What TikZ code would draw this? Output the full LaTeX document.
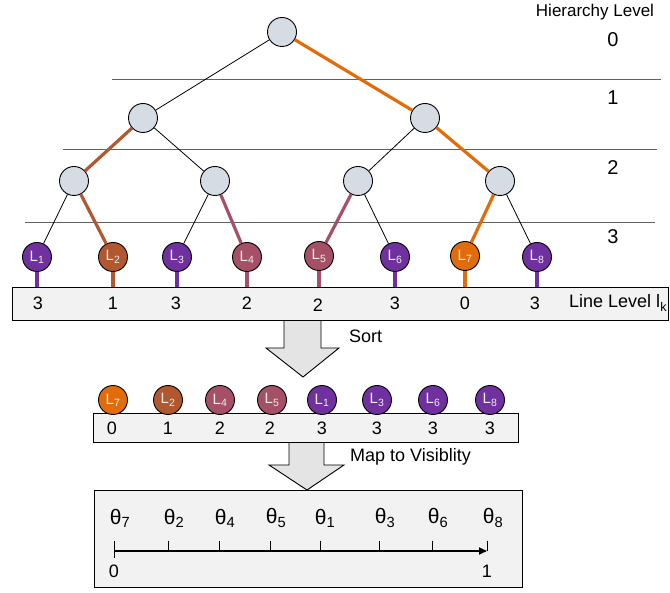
\documentclass[tikz,border=0pt]{standalone}
\usepackage{fontspec}
\setmainfont{Liberation Sans}
\usetikzlibrary{arrows.meta}
\definecolor{cOrange}{HTML}{E36C0A}
\definecolor{cBrown}{HTML}{B2582F}
\definecolor{cRose}{HTML}{A65067}
\definecolor{cPurple}{HTML}{7030A0}
\definecolor{nodefill}{HTML}{D6DCE4}
\definecolor{leaftext}{HTML}{EEEEEE}
\definecolor{sepgray}{HTML}{606060}
\definecolor{panelfill}{HTML}{F2F2F2}
\definecolor{arrowfill}{HTML}{E4E4E4}
\begin{document}
\begin{tikzpicture}[x=1pt,y=-1pt,
  inner/.style={circle,draw=black,fill=nodefill,minimum size=29pt,inner sep=0pt,line width=0.9pt},
  leaf/.style={circle,draw=black,minimum size=29pt,inner sep=0pt,line width=0.9pt,text=leaftext,font=\fontsize{15}{15}\selectfont},
  thinedge/.style={line width=0.8pt},
  hot/.style={line width=3.2pt},
  sep/.style={draw=sepgray,line width=1pt},
  lbl/.style={font=\fontsize{18}{18}\selectfont,inner sep=0pt},
  hlbl/.style={font=\fontsize{20}{20}\selectfont,inner sep=0pt},
  tlbl/.style={font=\fontsize{21}{21}\selectfont,inner sep=0pt},
  panel/.style={draw=black,fill=panelfill,line width=1.1pt,inner sep=0pt,anchor=north west},
  bigarrow/.style={draw=black,line width=0.9pt,line join=miter},
  tick/.style={line width=0.8pt}]
\useasboundingbox (0,0) rectangle (670,593);

% hierarchy level separators
\draw[sep] (112,80) -- (661,80);
\draw[sep] (63,150) -- (657,150);
\draw[sep] (25,222.5) -- (655,222.5);

% level captions
\node[font=\fontsize{17}{17}\selectfont,inner sep=0pt] (hlev) at (595,12) {Hierarchy Level};
\node[hlbl] (h0) at (613,40) {0};
\node[hlbl] (h1) at (613,98) {1};
\node[hlbl] (h2) at (613,168) {2};
\node[hlbl] (h3) at (613,237) {3};

% sort arrow (outline left open at the top, under the bar)
\fill[arrowfill] (284,319) -- (284,348) -- (266,348) -- (303,377) -- (339,348) -- (321,348) -- (321,319) -- cycle;
\draw[bigarrow] (284,320) -- (284,348) -- (266,348) -- (303,377) -- (339,348) -- (321,348) -- (321,320);
\node[lbl,anchor=west] (sort) at (349,336) {Sort};

% map arrow
\fill[arrowfill] (289,441) -- (289,465) -- (269,465) -- (307,491) -- (344,465) -- (324,465) -- (324,441) -- cycle;
\draw[bigarrow] (289,442) -- (289,465) -- (269,465) -- (307,490) -- (344,465) -- (324,465) -- (324,442);
\node[lbl,anchor=west] (map) at (350,457) {Map to Visiblity};

% bars
\node[panel,minimum width=656pt,minimum height=33pt] (bar1) at (12,287) {};
\node[panel,minimum width=425pt,minimum height=29pt] (bar2) at (93,413) {};
\node[panel,minimum width=428pt,minimum height=97pt] (bar3) at (94,490) {};

% tree
\node[inner] (r) at (282,32) {};
\node[inner] (a) at (143,118) {};
\node[inner] (b) at (425,118) {};
\node[inner] (aa) at (74,181) {};
\node[inner] (ab) at (215,181) {};
\node[inner] (ba) at (358,181) {};
\node[inner] (bb) at (500,181) {};

\node[leaf,fill=cPurple] (L1) at (37,257) {L\textsubscript{1}};
\node[leaf,fill=cBrown]  (L2) at (113,257) {L\textsubscript{2}};
\node[leaf,fill=cPurple] (L3) at (177,257) {L\textsubscript{3}};
\node[leaf,fill=cRose]   (L4) at (247,257) {L\textsubscript{4}};
\node[leaf,fill=cRose]   (L5) at (319,256) {L\textsubscript{5}};
\node[leaf,fill=cPurple] (L6) at (395,257) {L\textsubscript{6}};
\node[leaf,fill=cOrange] (L7) at (465,256) {L\textsubscript{7}};
\node[leaf,fill=cPurple] (L8) at (537,257) {L\textsubscript{8}};

\draw[thinedge] (r) -- (a);
\draw[hot,cOrange] (r) -- (b);
\draw[hot,cBrown] (a) -- (aa);
\draw[thinedge] (a) -- (ab);
\draw[thinedge] (b) -- (ba);
\draw[hot,cOrange] (b) -- (bb);
\draw[thinedge] (aa) -- (L1);
\draw[hot,cBrown] (aa) -- (L2);
\draw[thinedge] (ab) -- (L3);
\draw[hot,cRose] (ab) -- (L4);
\draw[hot,cRose] (ba) -- (L5);
\draw[thinedge] (ba) -- (L6);
\draw[hot,cOrange] (bb) -- (L7);
\draw[thinedge] (bb) -- (L8);

% stems to the line-level bar
\draw[hot,cPurple] (L1) -- (L1 |- bar1.north);
\draw[hot,cBrown]  (L2) -- (L2 |- bar1.north);
\draw[hot,cPurple] (L3) -- (L3 |- bar1.north);
\draw[hot,cRose]   (L4) -- (L4 |- bar1.north);
\draw[hot,cRose]   (L5) -- (L5 |- bar1.north);
\draw[hot,cPurple] (L6) -- (L6 |- bar1.north);
\draw[hot,cOrange] (L7) -- (L7 |- bar1.north);
\draw[hot,cPurple] (L8) -- (L8 |- bar1.north);

% line levels
\node[lbl] (n1) at (38,303) {3};
\node[lbl] (n2) at (113,303) {1};
\node[lbl] (n3) at (176,303) {3};
\node[lbl] (n4) at (247,303) {2};
\node[lbl] (n5) at (318,305) {2};
\node[lbl] (n6) at (395,303) {3};
\node[lbl] (n7) at (465,303) {0};
\node[lbl] (n8) at (535,303) {3};
\node[lbl,anchor=west] (ll) at (569,303) {Line Level l\textsubscript{k}};

% sorted lines
\node[leaf,fill=cOrange] (s7) at (113,400) {L\textsubscript{7}};
\node[leaf,fill=cBrown]  (s2) at (168,400) {L\textsubscript{2}};
\node[leaf,fill=cRose]   (s4) at (220,400) {L\textsubscript{4}};
\node[leaf,fill=cRose]   (s5) at (272,400) {L\textsubscript{5}};
\node[leaf,fill=cPurple] (s1) at (322,400) {L\textsubscript{1}};
\node[leaf,fill=cPurple] (s3) at (377,400) {L\textsubscript{3}};
\node[leaf,fill=cPurple] (s6) at (433,400) {L\textsubscript{6}};
\node[leaf,fill=cPurple] (s8) at (490,400) {L\textsubscript{8}};

\node[lbl] (m7) at (112,428) {0};
\node[lbl] (m2) at (168,428) {1};
\node[lbl] (m4) at (220,428) {2};
\node[lbl] (m5) at (270,428) {2};
\node[lbl] (m1) at (322,428) {3};
\node[lbl] (m3) at (377,428) {3};
\node[lbl] (m6) at (433,428) {3};
\node[lbl] (m8) at (490,428) {3};

% visibility axis
\coordinate (ax0) at (114,551);
\coordinate (ax1) at (487,551);
\draw[line width=1.8pt,-{Triangle[length=8pt,width=7pt]}] (ax0) -- (ax1);
\draw[tick] (114,541) -- (114,558);
\foreach \x in {168,219,270,320,379,432,487} \draw[tick] (\x,541) -- (\x,551);
\node[tlbl] (t7) at (120,518) {θ\textsubscript{7}};
\node[tlbl] (t2) at (174,518) {θ\textsubscript{2}};
\node[tlbl] (t4) at (225,518) {θ\textsubscript{4}};
\node[tlbl] (t5) at (276,518) {θ\textsubscript{5}};
\node[tlbl] (t1) at (325,518) {θ\textsubscript{1}};
\node[tlbl] (t3) at (385,518) {θ\textsubscript{3}};
\node[tlbl] (t6) at (438,518) {θ\textsubscript{6}};
\node[tlbl] (t8) at (493,518) {θ\textsubscript{8}};
\node[lbl] (z0) at (114,571) {0};
\node[lbl] (z1) at (487,571) {1};
\end{tikzpicture}
\end{document}
